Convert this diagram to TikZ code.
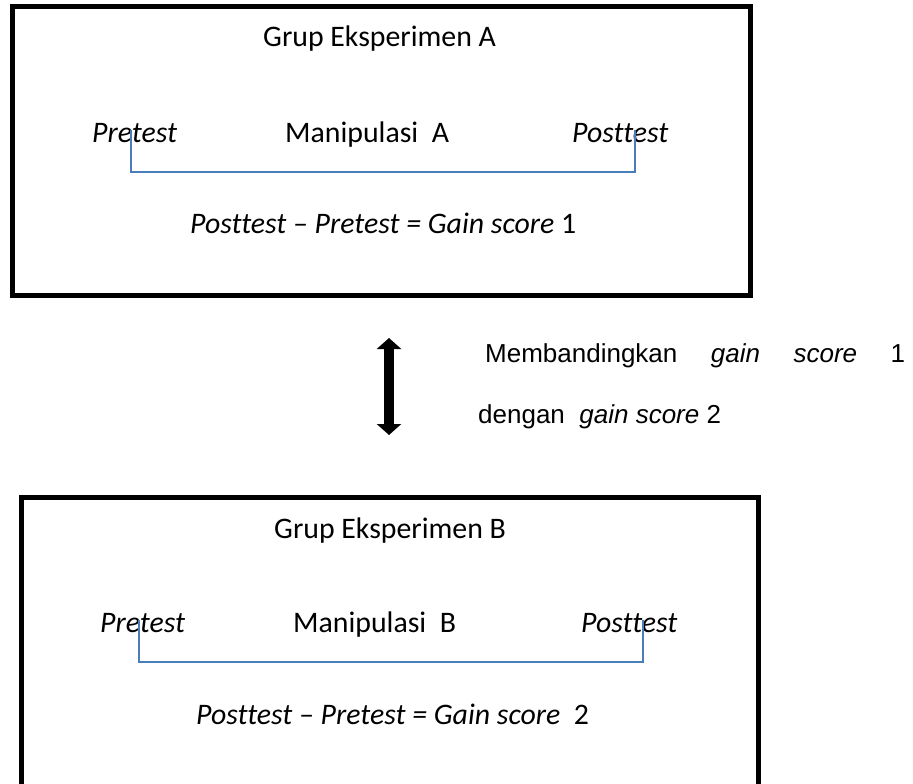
\documentclass[tikz,border=0pt]{standalone}
\usepackage{fontspec}
\setmainfont{Carlito}[Ligatures={NoCommon}]
\newfontfamily\arialfont{Liberation Sans}
\usetikzlibrary{arrows.meta}

\definecolor{bracketblue}{RGB}{74,126,187}

\tikzset{
  groupbox/.style={draw=black, line width=5pt},
  boxtext/.style={anchor=base west, inner sep=0pt, font=\fontsize{29.8}{36}\selectfont},
  sidetext/.style={anchor=base west, inner sep=0pt, font=\arialfont\fontsize{26}{31}\selectfont},
  bracket/.style={draw=bracketblue, line width=1.5pt},
  compare/.style={line width=10pt, {Triangle[width=24pt,length=11pt]}-{Triangle[width=24pt,length=11pt]}}
}

\begin{document}
\begin{tikzpicture}[x=1pt, y=-1pt]
  \useasboundingbox (0,0) rectangle (913,784);
  \clip (0,0) rectangle (913,784);

  % group A frame
  \draw[groupbox] (12.5,7) rectangle (750.5,295.5);
  % group B frame (runs past the lower edge)
  \draw[groupbox] (21,497.5) rectangle (758.5,820);

  % group A contents
  \node[boxtext] (titleA) at (263,47) {Grup Eksperimen A};
  \node[boxtext] (preA)   at (92,142) {\itshape Pretest};
  \node[boxtext] (manA)   at (285,142) {Manipulasi\ \ A};
  \node[boxtext] (postA)  at (572,142) {\itshape Posttest};
  \node[boxtext] (gainA)  at (190,233) {\itshape Posttest -- Pretest = Gain score\/\upshape\ 1};

  \coordinate (bA1) at (131,130);
  \coordinate (bA2) at (635,130);
  \draw[bracket] (bA1) -- ++(0,42) -| (bA2);

  % group B contents
  \node[boxtext] (titleB) at (274,538) {Grup Eksperimen B};
  \node[boxtext] (preB)   at (100,632) {\itshape Pretest};
  \node[boxtext] (manB)   at (293,632) {Manipulasi\ \ B};
  \node[boxtext] (postB)  at (581,632) {\itshape Posttest};
  \node[boxtext] (gainB)  at (196,724) {\itshape Posttest -- Pretest = Gain score\/\upshape\ \ 2};

  \coordinate (bB1) at (139,620);
  \coordinate (bB2) at (643,620);
  \draw[bracket] (bB1) -- ++(0,42) -| (bB2);

  % comparison arrow and its note
  \coordinate (arrTop) at (389,338);
  \coordinate (arrBot) at (389,435);
  \draw[compare] (arrTop) -- (arrBot);

  \node[sidetext] (noteA) at (485,362)
    {\makebox[420pt][s]{Membandingkan \textit{gain} \textit{score} 1}};
  \node[sidetext] (noteB) at (478,423)
    {dengan\ \ \textit{gain} \textit{score} 2};
\end{tikzpicture}
\end{document}
